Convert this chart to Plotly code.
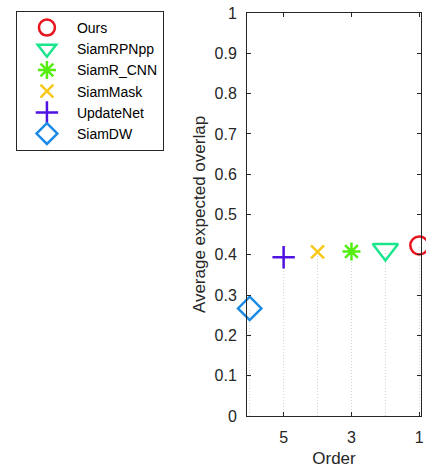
import plotly.graph_objects as go

methods = ["Ours", "SiamRPNpp", "SiamR_CNN", "SiamMask", "UpdateNet", "SiamDW"]
order = [1, 2, 3, 4, 5, 6]
eao = [0.423, 0.413, 0.408, 0.407, 0.394, 0.267]
colors = ["#e8141e", "#19e68c", "#55ee10", "#f7c81a", "#5012e0", "#1a8ae6"]
symbols = ["circle-open", "triangle-down-open", "asterisk-open", "x-thin-open", "cross-thin-open", "diamond-open"]
sizes = [18, 22, 15, 13, 16, 18]
yticks = [0, 0.1, 0.2, 0.3, 0.4, 0.5, 0.6, 0.7, 0.8, 0.9, 1]
ytick_text = ["0", "0.1", "0.2", "0.3", "0.4", "0.5", "0.6", "0.7", "0.8", "0.9", "1"]
xticks = [5, 3, 1]

fig = go.Figure()

# dotted stems
for o, v in zip(order, eao):
    fig.add_trace(go.Scatter(x=[o, o], y=[0, v], mode="lines",
                             line=dict(color="#cfcfcf", width=1, dash="1px,2px"),
                             showlegend=False, hoverinfo="skip"))

for m, o, v, c, s, sz in zip(methods, order, eao, colors, symbols, sizes):
    fig.add_trace(go.Scatter(x=[o], y=[v], mode="markers", name=m,
                             marker=dict(symbol=s, size=sz, color=c,
                                         line=dict(color=c, width=2.5)),
                             cliponaxis=False))

font = "Liberation Sans, Arial, sans-serif"
fig.update_layout(
    width=426, height=469,
    margin=dict(l=247, r=2, t=13, b=53),
    paper_bgcolor="white", plot_bgcolor="white",
    font=dict(family=font, size=16, color="#262626"),
    showlegend=True,
    legend=dict(x=-1.328, y=1.005, xanchor="left", yanchor="top",
                bgcolor="white", bordercolor="#262626", borderwidth=1,
                font=dict(size=14, color="#000000"),
                itemsizing="trace", itemwidth=50, tracegroupgap=0),
    xaxis=dict(range=[6.08, 0.95], tickvals=xticks, ticktext=[str(t) for t in xticks],
               ticks="inside", ticklen=4, tickcolor="#262626",
               ticklabelstandoff=7, ticklabeloverflow="allow",
               showline=True, linecolor="#262626", linewidth=1, mirror="ticks",
               showgrid=False, zeroline=False,
               title=dict(text="Order", font=dict(size=17, color="#262626"), standoff=6),
               tickfont=dict(size=16, color="#262626")),
    yaxis=dict(range=[0, 1], tickvals=yticks, ticktext=ytick_text,
               ticks="inside", ticklen=4, tickcolor="#262626",
               ticklabelstandoff=6,
               showline=True, linecolor="#262626", linewidth=1, mirror="ticks",
               showgrid=False, zeroline=False,
               title=dict(text="Average expected overlap", font=dict(size=17, color="#262626"), standoff=4),
               tickfont=dict(size=16, color="#262626")),
)

fig.write_html("out.html")
